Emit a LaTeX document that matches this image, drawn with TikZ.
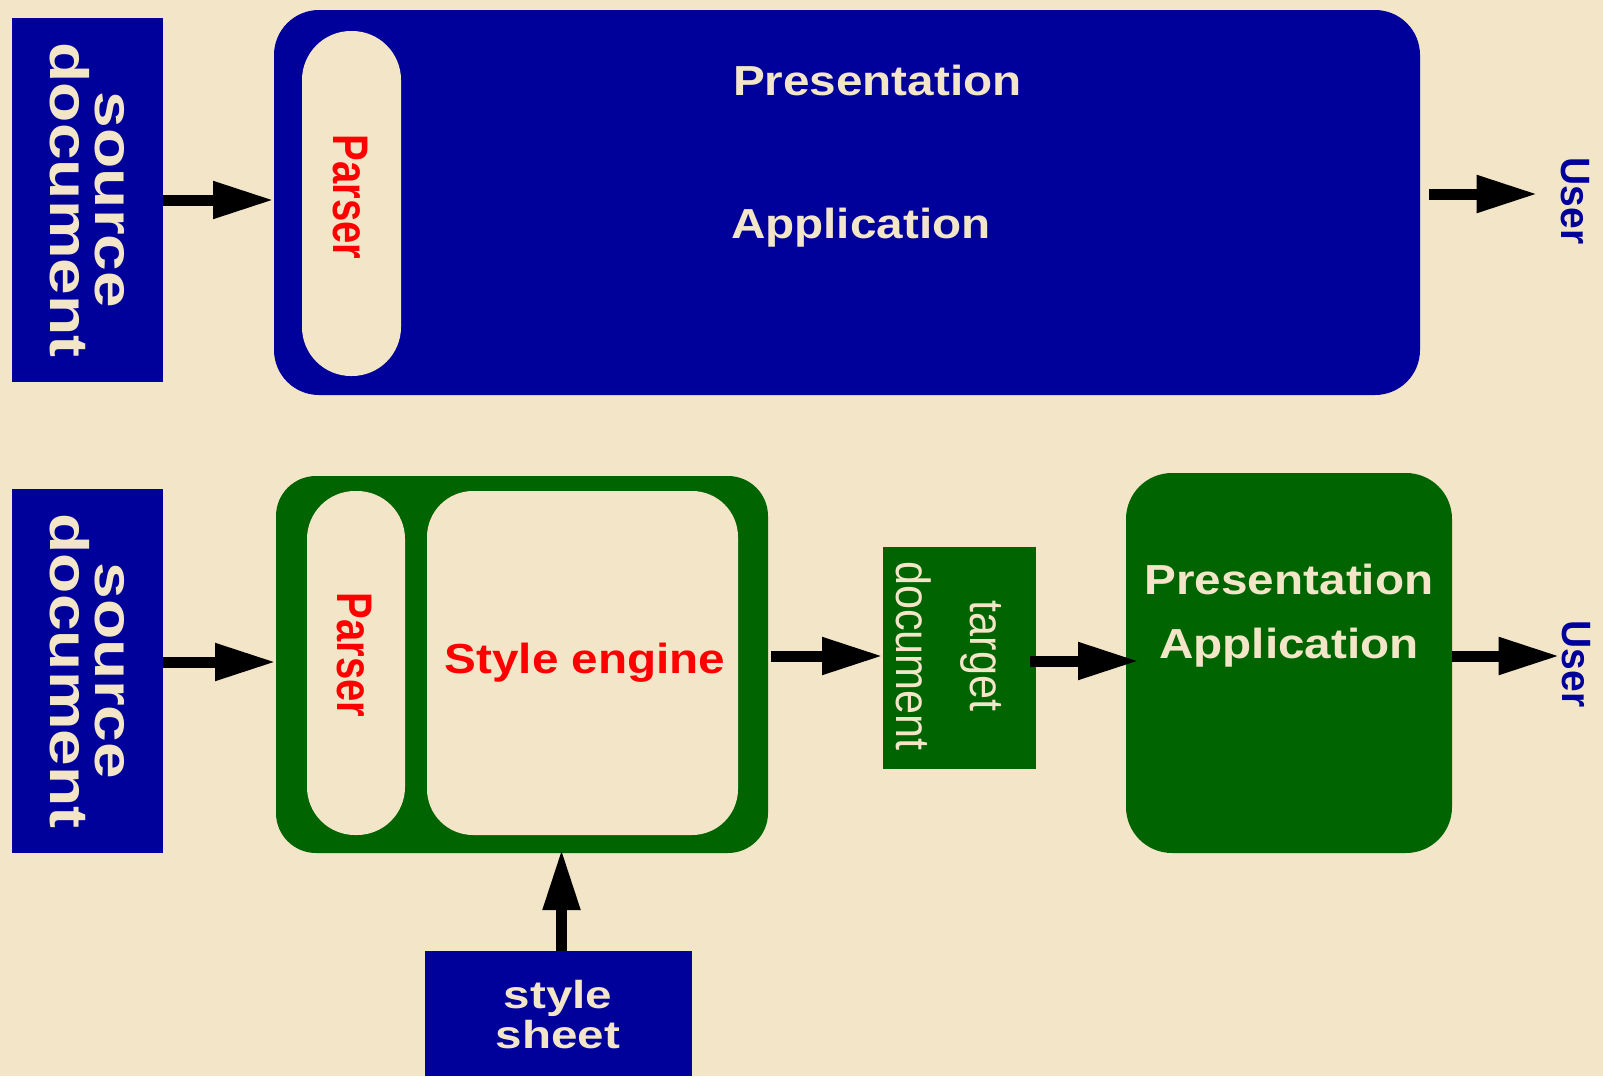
\documentclass[tikz,border=0pt]{standalone}
\usepackage{fontspec}
\setmainfont{Liberation Sans}
\newfontfamily\headfont[FakeStretch=1.135]{Liberation Sans}
\newfontfamily\srcfont[FakeStretch=1.22]{Liberation Sans}
\newfontfamily\parserfont[FakeStretch=0.8]{Liberation Sans}
\newfontfamily\userfont[FakeStretch=0.95]{Liberation Sans}
\newfontfamily\sheetfont[FakeStretch=1.22]{Liberation Sans}
\newfontfamily\targetfont[FakeStretch=0.9]{Liberation Sans}
\usetikzlibrary{arrows.meta}
\definecolor{bg}{RGB}{243,230,200}
\definecolor{cream}{RGB}{243,230,200}
\definecolor{navy}{RGB}{0,0,155}
\definecolor{forest}{RGB}{0,100,0}
\begin{document}
\begin{tikzpicture}[x=1pt,y=-1pt,
  box/.style={draw=none, inner sep=0pt, outer sep=0pt, anchor=north west},
  txt/.style={inner sep=0pt, outer sep=0pt},
  arr/.style={line width=11pt, -{Triangle[length=61pt,width=35pt]}},
  headtxt/.style={txt, text=cream, font=\headfont\bfseries\fontsize{42}{64}\selectfont},
  srctxt/.style={txt, rotate=-90, align=center, text=cream, font=\srcfont\bfseries\fontsize{54}{45}\selectfont},
  parsertxt/.style={txt, rotate=-90, text=red, font=\parserfont\bfseries\fontsize{50}{58}\selectfont},
  usertxt/.style={txt, rotate=-90, text=navy, font=\userfont\bfseries\fontsize{41}{48}\selectfont}]

% page background
\fill[bg] (0,0) rectangle (1603,1076);
\useasboundingbox (0,0) rectangle (1603,1076);

% ---- upper row: parser built into the presentation application ----
\node[box, fill=navy, minimum width=151pt, minimum height=364pt] (src1) at (12,18) {};
\node[box, fill=navy, rounded corners=45pt, minimum width=1146pt, minimum height=385pt] (app1) at (274,10) {};
\node[box, fill=cream, rounded corners=49pt, minimum width=99pt, minimum height=345pt] (parse1) at (302,31) {};

\node[srctxt] (src1t) at (87,200) {source\\document};
\node[parsertxt] (parse1t) at (350,197) {Parser};
\node[headtxt, anchor=base west] (pres1t) at (733,95) {Presentation};
\node[headtxt, anchor=base west] (appl1t) at (731,238) {Application};
\node[usertxt] (user1) at (1575,201) {User};

\draw[arr] (src1.east) -- (src1.east -| app1.west);
\draw[arr, shorten <=9pt, shorten >=23pt] ([yshift=8.5pt]app1.east) -- ([yshift=8.5pt]app1.east -| user1.south);

% ---- lower row: style engine producing a target document ----
\node[box, fill=navy, minimum width=151pt, minimum height=364pt] (src2) at (12,489) {};
\node[box, fill=forest, rounded corners=40pt, minimum width=492pt, minimum height=377pt] (proc) at (276,476) {};
\node[box, fill=cream, rounded corners=48pt, minimum width=98pt, minimum height=344pt] (parse2) at (307,491) {};
\node[box, fill=cream, rounded corners=46pt, minimum width=311pt, minimum height=344pt] (engine) at (427,491) {};
\node[box, fill=forest, minimum width=153pt, minimum height=222pt] (target) at (883,547) {};
\node[box, fill=forest, rounded corners=46pt, minimum width=326pt, minimum height=380pt] (app2) at (1126,473) {};
\node[box, fill=navy, minimum width=267pt, minimum height=125pt] (sheet) at (425,951) {};

\node[srctxt] (src2t) at (87,671) {source\\document};
\node[parsertxt] (parse2t) at (354,655) {Parser};
\node[txt, anchor=base, text=red, font=\headfont\bfseries\fontsize{42}{64}\selectfont] (enginet) at (585,673) {Style engine};
\node[txt, rotate=-90, align=center, text=cream, font=\targetfont\fontsize{48}{74}\selectfont] (targett) at (949,656) {target\\document};
\node[headtxt, align=center] (app2t) at (1289,616) {Presentation\\Application};
\node[usertxt] (user2) at (1576,664) {User};
\node[txt, align=center, text=cream, font=\sheetfont\bfseries\fontsize{39}{40}\selectfont] (sheett) at (558,1015) {style\\sheet};

\draw[arr] ([yshift=9pt]src2.east) -- ([yshift=9pt]src2.east -| proc.west);
\draw[arr, shorten <=3pt] ([yshift=8.5pt]proc.east) -- ([yshift=8.5pt]proc.east -| target.west);
\draw[arr, shorten <=-6pt, shorten >=-13pt] ([yshift=-3pt]target.east) -- ([yshift=-3pt]target.east -| app2.west);
\draw[arr, shorten >=2pt] ([yshift=7pt]app2.east) -- ([yshift=7pt]app2.east -| user2.south);
\draw[arr, shorten >=-4pt] ([xshift=3pt]sheet.north) -- ([xshift=3pt]sheet.north |- proc.south);
\end{tikzpicture}
\end{document}
